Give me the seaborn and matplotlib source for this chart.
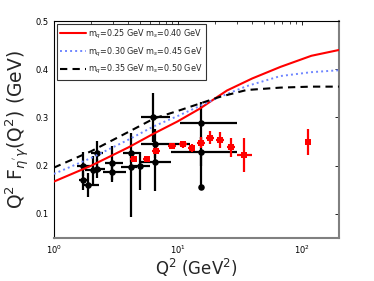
import numpy as np
import pandas as pd
import matplotlib
matplotlib.use("Agg")
import matplotlib.pyplot as plt
import seaborn as sns

# ---- theory curves ----
q_red = [1, 2, 4, 6.45, 10, 15, 25, 40, 67.6, 120, 200]
f_red = [0.167, 0.200, 0.238, 0.267, 0.292, 0.318, 0.356, 0.381, 0.405, 0.428, 0.440]
q_blue = [1, 2, 4, 6.45, 10.4, 22, 36, 67.6, 120, 200]
f_blue = [0.183, 0.216, 0.254, 0.282, 0.305, 0.343, 0.365, 0.386, 0.394, 0.398]
q_blk = [1, 2, 4, 6.45, 10.4, 22, 36, 67.6, 120, 200]
f_blk = [0.196, 0.230, 0.270, 0.298, 0.315, 0.343, 0.357, 0.362, 0.364, 0.364]
labels = [r"m$_q$=0.25 GeV m$_s$=0.40 GeV",
          r"m$_q$=0.30 GeV m$_s$=0.45 GeV",
          r"m$_q$=0.35 GeV m$_s$=0.50 GeV"]

# ---- black data (circles) ----
bq = [6.3, 15.4, 15.4, 15.4, 6.58, 6.58, 4.97, 4.18, 4.18, 2.97, 2.97, 2.22, 2.08, 2.24, 1.73, 1.73, 1.9]
bF = [0.300, 0.288, 0.229, 0.155, 0.246, 0.208, 0.199, 0.227, 0.198, 0.205, 0.187, 0.227, 0.191, 0.194, 0.199, 0.170, 0.160]
b_ylo = [0.05, 0.04, 0.03, 0.0, 0.03, 0.06, 0.05, 0.02, 0.105, 0.035, 0.02, 0.04, 0.03, 0.02, 0.02, 0.02, 0.025]
b_yhi = [0.05, 0.045, 0.03, 0.07, 0.03, 0.03, 0.03, 0.04, 0.02, 0.035, 0.02, 0.025, 0.03, 0.02, 0.03, 0.02, 0.025]
b_qlo = [5.1, 10.4, 8.9, 15.4, 5.1, 5.1, 4.2, 3.6, 3.5, 2.6, 2.5, 2.0, 1.8, 2.0, 1.55, 1.6, 1.7]
b_qhi = [8.7, 30.0, 30.0, 15.4, 12.6, 8.9, 6.0, 5.0, 4.7, 3.6, 3.8, 2.5, 2.4, 2.6, 1.95, 1.9, 2.3]

# ---- red data (squares) ----
rq = [4.4, 5.6, 6.7, 9.0, 11.0, 13.0, 15.4, 18.3, 22.1, 27.0, 34.5, 113.0]
rF = [0.214, 0.214, 0.231, 0.241, 0.244, 0.236, 0.248, 0.258, 0.253, 0.238, 0.222, 0.250]
r_yerr = [0.005, 0.005, 0.007, 0.006, 0.007, 0.008, 0.012, 0.014, 0.016, 0.02, 0.035, 0.027]
r_qlo = [4.1, 5.2, 6.2, 8.4, 10.2, 12.1, 14.3, 17.0, 20.5, 25.0, 30.0, 110.0]
r_qhi = [4.7, 6.0, 7.2, 9.6, 11.8, 13.9, 16.5, 19.6, 23.7, 29.0, 40.0, 116.0]

sns.set_style("white")
plt.rcParams['font.family'] = ['DejaVu Sans']
plt.rcParams['mathtext.fontset'] = 'dejavusans'

fig = plt.figure(figsize=(3.74, 2.81), dpi=100)
ax = fig.add_axes([0.144, 0.153, 0.762, 0.772])

# error bars
ax.errorbar(bq, bF,
            yerr=[b_ylo, b_yhi],
            xerr=[np.array(bq) - np.array(b_qlo), np.array(b_qhi) - np.array(bq)],
            fmt='none', ecolor='black', elinewidth=1.6, capsize=0, zorder=2)
ax.errorbar(rq, rF, yerr=r_yerr,
            xerr=[np.array(rq) - np.array(r_qlo), np.array(r_qhi) - np.array(rq)],
            fmt='none', ecolor='red', elinewidth=1.6, capsize=0, zorder=3)
sns.scatterplot(x=bq, y=bF, ax=ax, color='black', marker='o', s=22,
                edgecolor='black', linewidth=0, zorder=4)
sns.scatterplot(x=rq, y=rF, ax=ax, color='red', marker='s', s=20,
                edgecolor='red', linewidth=0, zorder=5)

# curves
sns.lineplot(x=q_red, y=f_red, ax=ax, color='red', lw=1.5, label=labels[0], zorder=6)
sns.lineplot(x=q_blue, y=f_blue, ax=ax, color='#6f86ff', lw=1.4, ls=(0, (1, 1.6)), label=labels[1], zorder=6)
sns.lineplot(x=q_blk, y=f_blk, ax=ax, color='black', lw=1.5, ls=(0, (3.5, 2.5)), label=labels[2], zorder=6)

ax.set_xscale('log')
ax.set_xlim(1, 200)
ax.set_ylim(0.05, 0.5)
ax.set_yticks([0.1, 0.2, 0.3, 0.4, 0.5])
ax.set_yticklabels(['0.1', '0.2', '0.3', '0.4', '0.5'])
ax.tick_params(axis='both', which='both', direction='in', top=True, right=True,
               labelsize=6, colors='black')
ax.tick_params(axis='both', which='major', length=3, width=0.6, pad=4)
ax.tick_params(axis='x', which='minor', length=2, width=0.5)

for s in ['left', 'top']:
    ax.spines[s].set_color('black')
    ax.spines[s].set_linewidth(0.8)
for s in ['right', 'bottom']:
    ax.spines[s].set_color('#808080')
    ax.spines[s].set_linewidth(1.5)

ax.set_xlabel(r"Q$^2$ (GeV$^2$)", fontsize=12, labelpad=1)
ax.set_ylabel(r"Q$^2$ F$_{\eta^{'}\gamma}$(Q$^2$) (GeV)", fontsize=13.5, labelpad=2)

leg = ax.legend(loc='upper left', fontsize=5.8, frameon=True, fancybox=False,
                edgecolor='black', borderpad=0.4, labelspacing=0.6,
                handlelength=3.2, handletextpad=0.3, borderaxespad=0.4)
leg.get_frame().set_linewidth(0.8)

fig.savefig('out.png', dpi=100)
